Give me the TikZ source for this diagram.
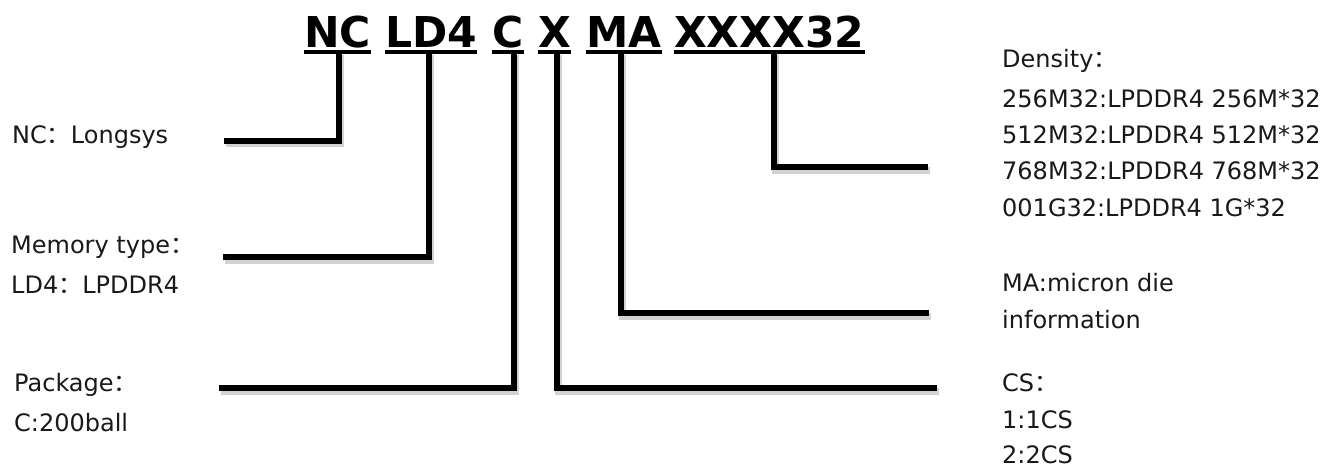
\documentclass[tikz,border=0pt]{standalone}
\usepackage{fontspec}
\setmainfont{DejaVu Sans}
\newfontfamily\cjk{Noto Sans CJK SC}
\begin{document}
\begin{tikzpicture}[x=1pt,y=-1pt,
  title/.style={font=\fontsize{42.5}{42.5}\selectfont\bfseries, inner sep=0pt, anchor=base west},
  lbl/.style={font=\fontsize{24}{24}\selectfont, inner sep=0pt, anchor=base west, text=black!90},
  uline/.style={line width=4.5pt, black},
  connline/.style={line width=6pt, black},
  shadowline/.style={line width=7pt, black!22, opacity=0.8}
]
\useasboundingbox (0,0) rectangle (1340,472);
\fill[white] (0,0) rectangle (1340,472);

% title words
\node[title] (wNC) at (304,47) {NC};
\node[title] (wLD) at (385,47) {LD4};
\node[title] (wC)  at (492,47) {C};
\node[title] (wX)  at (538,47) {X};
\node[title] (wMA) at (586,47) {MA};
\node[title] (wXX) at (674,47) {XXXX32};

% connector top points (under the underlines)
\coordinate (tNC) at (339,52);
\coordinate (tLD) at (429,52);
\coordinate (tC)  at (514,52);
\coordinate (tX)  at (557,52);
\coordinate (tMA) at (621,52);
\coordinate (tXX) at (774,52);
% free ends
\coordinate (eNC) at (224,140.5);
\coordinate (eLD) at (223,257);
\coordinate (eC)  at (219,388);
\coordinate (eX)  at (937,388);
\coordinate (eMA) at (929,313);
\coordinate (eXX) at (928,167);

% shadows
\foreach \a/\b in {tNC/eNC,tLD/eLD,tC/eC,tX/eX,tMA/eMA,tXX/eXX}
  \draw[shadowline] ([shift={(1.5pt,-3pt)}]\a) |- ([shift={(1.5pt,-3pt)}]\b);
% connectors
\draw[connline] (tNC) |- (eNC);
\draw[connline] (tLD) |- (eLD);
\draw[connline] (tC)  |- (eC);
\draw[connline] (tX)  |- (eX);
\draw[connline] (tMA) |- (eMA);
\draw[connline] (tXX) |- (eXX);
% underlines on top
\foreach \w in {wNC,wLD,wC,wX,wMA,wXX}
  \draw[uline] ([yshift=-5pt]\w.base west) -- ([yshift=-5pt]\w.base east);

% left labels
\node[lbl] (lNC)  at (12,143) {NC{\cjk ：}Longsys};
\node[lbl] (lMT)  at (11,253) {Memory type{\cjk ：}};
\node[lbl] (lLD)  at (11,293) {LD4{\cjk ：}LPDDR4};
\node[lbl] (lPK)  at (14,391) {Package{\cjk ：}};
\node[lbl] (lCB)  at (14,431) {C:200ball};

% right labels
\node[lbl] (rD)   at (1002,67)  {Density{\cjk ：}};
\node[lbl] (rD1)  at (1002,107) {256M32:LPDDR4 256M*32};
\node[lbl] (rD2)  at (1002,143) {512M32:LPDDR4 512M*32};
\node[lbl] (rD3)  at (1002,179) {768M32:LPDDR4 768M*32};
\node[lbl] (rD4)  at (1002,216) {001G32:LPDDR4 1G*32};
\node[lbl] (rMA)  at (1002,291) {MA:micron die};
\node[lbl] (rMA2) at (1002,328) {information};
\node[lbl] (rCS)  at (1002,391) {CS{\cjk ：}};
\node[lbl] (rCS1) at (1002,428) {1:1CS};
\node[lbl] (rCS2) at (1002,463) {2:2CS};
\end{tikzpicture}
\end{document}
